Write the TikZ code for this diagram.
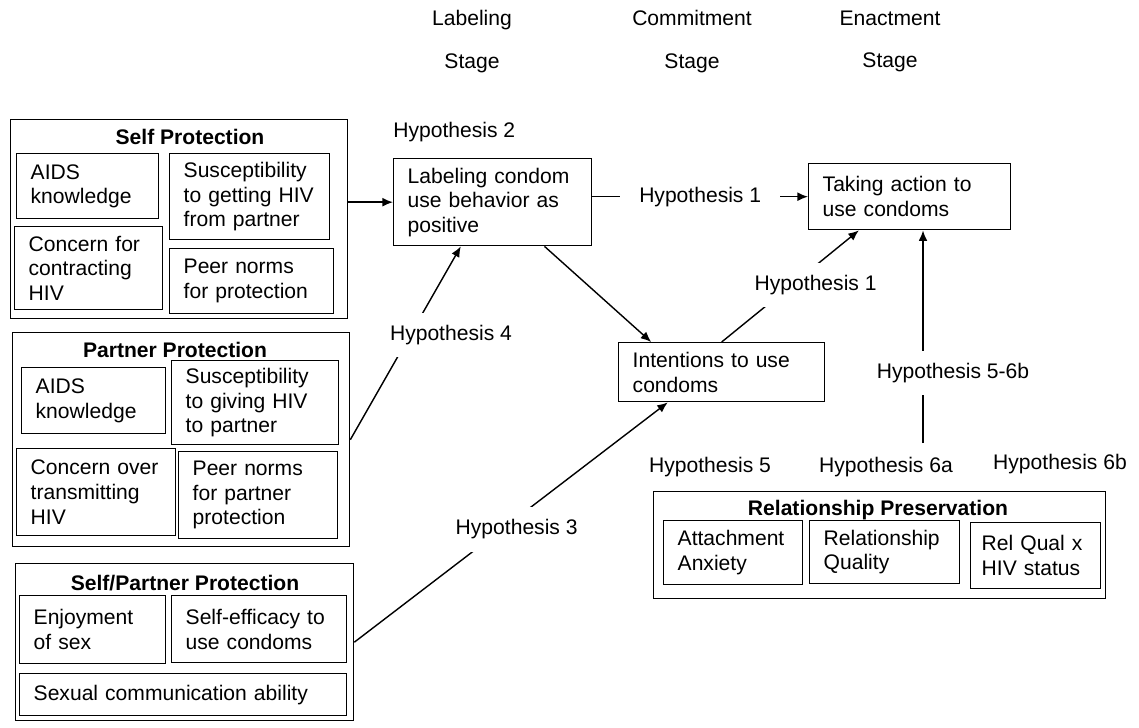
\documentclass[tikz,border=0pt]{standalone}
\usepackage{fontspec}
\setmainfont{Liberation Sans}
\usetikzlibrary{arrows.meta,calc}
\tikzset{
  txt/.style={font=\fontsize{12}{14}\selectfont},
  ttl/.style={font=\fontsize{12}{14}\selectfont\bfseries},
  grp/.style={draw, line width=0.8pt, anchor=north west, inner sep=0pt},
  item/.style={txt, draw, line width=0.8pt, anchor=north west, align=left, inner xsep=0.28cm, inner ysep=2pt},
  hyp/.style={txt, fill=white, inner xsep=4pt, inner ysep=7pt},
  arr/.style={-{Latex[length=6pt,width=5pt]}, line width=0.8pt}
}
\begin{document}
\begin{tikzpicture}[x=0.02cm, y=-0.02cm]
                \useasboundingbox (0,0) rectangle (1139,727);

                \node[txt, align=center] (stlab) at (472,41.5) {Labeling\\[10pt]Stage};
                \node[txt, align=center] (stcom) at (692,41.5) {Commitment\\[10pt]Stage};
                \node[txt, align=center] (stena) at (890,41.5) {Enactment\\[10pt]Stage};

                \node[grp, minimum width=6.74cm, minimum height=3.98cm] (sp) at (10,119) {};
                \node[ttl] (sptitle) at (190,137) {Self Protection};
                \node[item, text width=2.28cm, minimum height=1.30cm] (sp1) at (16,153) {AIDS\\knowledge};
                \node[item, text width=2.64cm, minimum height=1.72cm] (sp2) at (169,153) {Susceptibility\\to getting HIV\\from partner};
                \node[item, text width=2.40cm, minimum height=1.66cm] (sp3) at (14,226) {Concern for\\contracting\\HIV};
                \node[item, text width=2.72cm, minimum height=1.30cm] (sp4) at (169,248) {Peer norms\\for protection};

                \node[grp, minimum width=6.74cm, minimum height=4.28cm] (pp) at (12,332) {};
                \node[ttl] (pptitle) at (175,350) {Partner Protection};
                \node[item, text width=2.32cm, minimum height=1.32cm] (pp1) at (21,367) {AIDS\\knowledge};
                \node[item, text width=2.78cm, minimum height=1.68cm] (pp2) at (171,360) {Susceptibility\\to giving HIV\\to partner};
                \node[item, text width=2.62cm, minimum height=1.74cm] (pp3) at (16,448) {Concern over\\transmitting\\HIV};
                \node[item, text width=2.62cm, minimum height=1.74cm] (pp4) at (178,451) {Peer norms\\for partner\\protection};

                \node[grp, minimum width=6.76cm, minimum height=3.14cm] (spp) at (15,563) {};
                \node[ttl] (spptitle) at (185,583) {Self/Partner Protection};
                \node[item, text width=2.36cm, minimum height=1.36cm] (spp1) at (19,595) {Enjoyment\\of sex};
                \node[item, text width=2.94cm, minimum height=1.34cm] (spp2) at (171,595) {Self-efficacy to\\use condoms};
                \node[item, text width=5.98cm, minimum height=0.84cm] (spp3) at (19,673) {Sexual communication ability};

                \node[item, text width=3.40cm, minimum height=1.74cm] (lab) at (393,158) {Labeling condom\\use behavior as\\positive};
                \node[item, text width=3.48cm, minimum height=1.32cm] (act) at (808,163) {Taking action to\\use condoms};
                \node[item, text width=3.56cm, minimum height=1.18cm] (int) at (618,342) {Intentions to use\\condoms};

                \node[grp, minimum width=9.04cm, minimum height=2.14cm] (rp) at (653,491) {};
                \node[ttl] (rptitle) at (878,510) {Relationship Preservation};
                \node[item, text width=2.22cm, minimum height=1.28cm] (rp1) at (663,520) {Attachment\\Anxiety};
                \node[item, text width=2.44cm, minimum height=1.26cm] (rp2) at (809,520) {Relationship\\Quality};
                \node[item, inner xsep=0.22cm, text width=2.16cm, minimum height=1.32cm] (rp3) at (970,522) {Rel Qual x\\HIV status};

                \node[txt, anchor=west, inner sep=0pt] (h2) at (393,132) {Hypothesis 2};
                \node[txt] (h5) at (710,467) {Hypothesis 5};
                \node[txt] (h6a) at (886,467) {Hypothesis 6a};
                \node[txt] (h6b) at (1060,464) {Hypothesis 6b};
                \coordinate (vb) at (923,443);

                \draw[arr] (sp.east |- lab.west) -- (lab.west);
                \draw[arr] (lab.east |- act.west) -- node[hyp, inner xsep=11pt] (h1a) {Hypothesis 1} (act.west);
                \draw[arr] (pp.east) -- node[hyp, pos=0.54, xshift=0.82cm] (h4) {Hypothesis 4} ($(lab.south west)!0.34!(lab.south east)$);
                \draw[arr] ($(lab.south west)!0.76!(lab.south east)$) -- ($(int.north west)!0.16!(int.north east)$);
                \draw[arr] (int.north) -- node[hyp, pos=0.51, xshift=0.48cm] (h1b) {Hypothesis 1} ($(act.south west)!0.25!(act.south east)$);
                \draw[arr] (spp.east) -- node[hyp, pos=0.47, xshift=0.3cm] (h3) {Hypothesis 3} ($(int.south west)!0.24!(int.south east)$);
                \draw[arr] (vb) -- node[hyp, pos=0.33, xshift=0.6cm] (h56) {Hypothesis 5-6b} (vb |- act.south);
            \end{tikzpicture}
\end{document}
